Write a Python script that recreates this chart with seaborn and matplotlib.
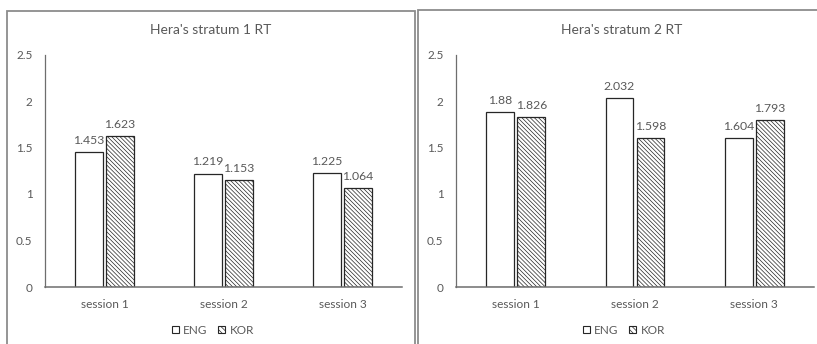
import matplotlib
matplotlib.use("Agg")
import matplotlib.pyplot as plt
from matplotlib.patches import Patch, Rectangle
import numpy as np
import pandas as pd
import seaborn as sns

# --- data -------------------------------------------------------------------
sessions = ["session 1", "session 2", "session 3"]
languages = ["ENG", "KOR"]
titles = ["Hera's stratum 1 RT", "Hera's stratum 2 RT"]
stratum1_eng = [1.453, 1.219, 1.225]
stratum1_kor = [1.623, 1.153, 1.064]
stratum2_eng = [1.88, 2.032, 1.604]
stratum2_kor = [1.826, 1.598, 1.793]
y_ticks = [0, 0.5, 1, 1.5, 2, 2.5]
y_tick_labels = ["0", "0.5", "1", "1.5", "2", "2.5"]

panels = [
    (titles[0], stratum1_eng, stratum1_kor),
    (titles[1], stratum2_eng, stratum2_kor),
]

# --- style ------------------------------------------------------------------
sns.set_theme(style="white")
plt.rcParams["font.family"] = ["Lato", "DejaVu Sans"]
plt.rcParams["hatch.linewidth"] = 0.5
TEXT = "#595959"
AXIS = "#6e6e6e"
FRAME = "#8c8c8c"
EDGE = "#262626"

W, H = 817, 344
fig = plt.figure(figsize=(W / 100, H / 100), dpi=100)


def fx(px):
    return px / W


def fy(py):
    return 1 - py / H


# chart-area frames
frames = [(7, 11, 414.5), (418, 10, W + 20)]
for x0, y0, x1 in frames:
    fig.patches.append(Rectangle((fx(x0), -0.2), fx(x1) - fx(x0), fy(y0) + 0.2,
                                 transform=fig.transFigure, fill=False,
                                 edgecolor=FRAME, linewidth=1.3))

# plot areas in pixel coordinates: (left, right), value 0 at y=287, 2.5 at y=54.5
plot_x = [(45, 402), (456, 814)]
title_x = [210.5, 622]
legend_x = [213, 624]
y0_px, ytop_px = 287, 54.5

for (title, eng, kor), (xl, xr), tx, lx in zip(panels, plot_x, title_x, legend_x):
    ax = fig.add_axes([fx(xl), fy(y0_px), fx(xr) - fx(xl), (y0_px - ytop_px) / H])
    df = pd.DataFrame({
        "session": sessions * 2,
        "lang": [languages[0]] * 3 + [languages[1]] * 3,
        "RT": list(eng) + list(kor),
    })
    sns.barplot(data=df, x="session", y="RT", hue="lang", hue_order=languages,
                order=sessions, ax=ax, width=0.52, gap=0.1, errorbar=None,
                legend=False)
    for i, cont in enumerate(ax.containers):
        for bar in cont:
            bar.set_facecolor("white")
            bar.set_edgecolor(EDGE)
            bar.set_linewidth(0.9)
            if i == 1:
                bar.set_hatch("\\" * 8)
        ax.bar_label(cont, fmt="{:g}", padding=4.5, fontsize=8.8, color=TEXT)

    ax.set_ylim(0, 2.5)
    ax.set_xlim(-0.5, 2.5)
    ax.set_yticks(y_ticks)
    ax.set_yticklabels(y_tick_labels)
    ax.set_xlabel("")
    ax.set_ylabel("")
    ax.tick_params(axis="y", length=0, pad=9, labelsize=8.5, labelcolor=TEXT)
    ax.tick_params(axis="x", length=0, pad=9, labelsize=8.6, labelcolor=TEXT)
    for side in ["top", "right"]:
        ax.spines[side].set_visible(False)
    ax.spines["left"].set_color(AXIS)
    ax.spines["bottom"].set_color(AXIS)
    ax.spines["left"].set_linewidth(0.9)
    ax.spines["bottom"].set_linewidth(1.1)
    ax.set_facecolor("none")

    fig.text(fx(tx), fy(30), title, ha="center", va="center",
             fontsize=10, color=TEXT)

    handles = [
        Patch(facecolor="white", edgecolor=EDGE, linewidth=0.8),
        Patch(facecolor="white", edgecolor=EDGE, linewidth=0.8, hatch="\\" * 6),
    ]
    fig.legend(handles, languages, loc="center", bbox_to_anchor=(fx(lx), fy(330)),
               ncol=2, frameon=False, fontsize=8.5, labelcolor=TEXT,
               handlelength=0.6, handleheight=0.6, handletextpad=0.4,
               columnspacing=0.9, borderpad=0, borderaxespad=0)

fig.savefig("out.png", dpi=100, facecolor="white")
